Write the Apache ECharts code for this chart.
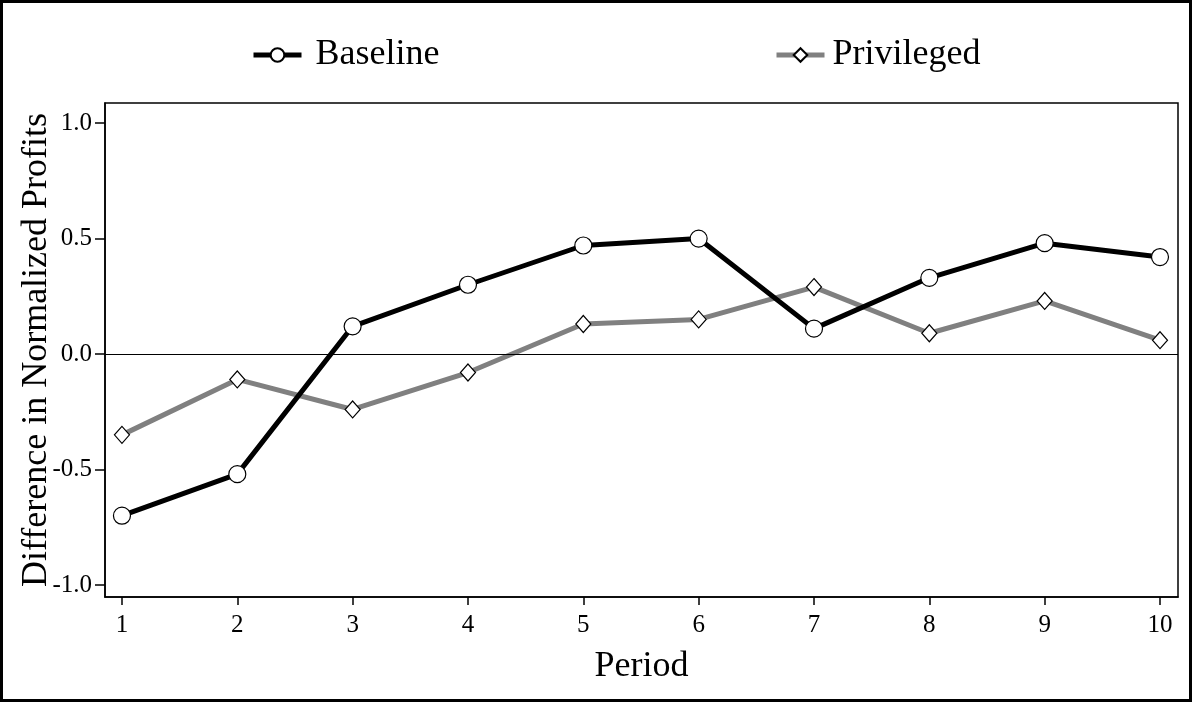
<!DOCTYPE html>
<html>
<head>
<meta charset="utf-8">
<script src="https://cdn.jsdelivr.net/npm/echarts@6/dist/echarts.min.js"></script>
<style>
  html, body { margin: 0; padding: 0; background: #fff; }
  #chart { width: 1192px; height: 702px; }
</style>
</head>
<body>
<div id="chart"></div>
<script>
// data
const periods = [1, 2, 3, 4, 5, 6, 7, 8, 9, 10];
const baseline = [-0.70, -0.52, 0.12, 0.30, 0.47, 0.50, 0.11, 0.33, 0.48, 0.42];
const privileged = [-0.35, -0.11, -0.24, -0.08, 0.13, 0.15, 0.29, 0.09, 0.23, 0.06];
const yTicks = [-1, -0.5, 0, 0.5, 1];

const serif = 'Liberation Serif';
const chart = echarts.init(document.getElementById('chart'));

function pairs(vals) {
    return periods.map((p, i) => [p, vals[i]]);
}

function legendItem(name, left, pad) {
    return {
        data: [name],
        left: left,
        top: 32,
        itemWidth: 48,
        itemHeight: 17,
        lineStyle: { width: 5 },
        textStyle: { fontFamily: serif, fontSize: 36, color: '#000', padding: [0, 0, 0, pad] }
    };
}

chart.setOption({
    animation: false,
    backgroundColor: '#fff',
    graphic: [{
        type: 'rect',
        shape: { x: 1.5, y: 1.5, width: 1189, height: 699 },
        style: { fill: 'none', stroke: '#000', lineWidth: 3 },
        silent: true
    }],
    legend: [
        legendItem('Baseline', 246, 9),
        legendItem('Privileged', 769, 3)
    ],
    grid: {
        left: 105, right: 14, top: 103, bottom: 105,
        outerBoundsMode: 'none',
        show: true, borderColor: '#000', borderWidth: 1.5
    },
    xAxis: {
        type: 'value',
        min: 0.853,
        max: 10.156,
        name: 'Period',
        nameLocation: 'middle',
        nameGap: 52,
        nameMoveOverlap: false,
        nameTextStyle: { fontFamily: serif, fontSize: 36, color: '#000' },
        axisLine: { show: true, onZero: false, lineStyle: { color: '#000', width: 1.5 } },
        axisTick: { show: true, customValues: periods, length: 8, lineStyle: { color: '#000', width: 1.5 } },
        axisLabel: {
            customValues: periods, margin: 16,
            fontFamily: serif, fontSize: 25, color: '#000'
        },
        splitLine: { show: false }
    },
    yAxis: {
        type: 'value',
        min: -1.052,
        max: 1.087,
        name: 'Difference in Normalized Profits',
        nameLocation: 'middle',
        nameGap: 50,
        nameMoveOverlap: false,
        nameTextStyle: { fontFamily: serif, fontSize: 36, color: '#000' },
        axisLine: { show: true, onZero: false, lineStyle: { color: '#000', width: 1.5 } },
        axisTick: { show: true, customValues: yTicks, length: 10, lineStyle: { color: '#000', width: 1.5 } },
        axisLabel: {
            customValues: yTicks, margin: 13,
            fontFamily: serif, fontSize: 25, color: '#000',
            formatter: v => v.toFixed(1)
        },
        splitLine: { show: false }
    },
    series: [{
        name: 'Privileged',
        type: 'line',
        z: 2,
        data: pairs(privileged),
        symbol: 'diamond',
        symbolSize: [15, 17],
        lineStyle: { color: '#808080', width: 5 },
        itemStyle: { color: '#fff', borderColor: '#000', borderWidth: 1.2 },
        markLine: {
            silent: true,
            symbol: 'none',
            label: { show: false },
            lineStyle: { color: '#000', width: 1.2, type: 'solid' },
            data: [{ yAxis: 0 }]
        }
    }, {
        name: 'Baseline',
        type: 'line',
        z: 3,
        data: pairs(baseline),
        symbol: 'circle',
        symbolSize: 17,
        lineStyle: { color: '#000', width: 5 },
        itemStyle: { color: '#fff', borderColor: '#000', borderWidth: 1.2 }
    }]
});
</script>
</body>
</html>
